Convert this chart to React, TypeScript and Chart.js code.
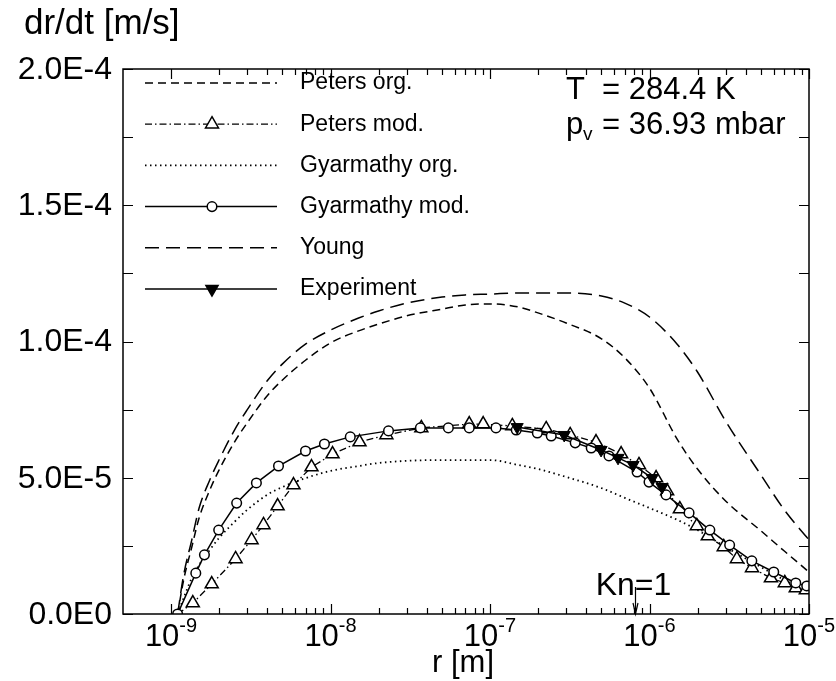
import React, { useEffect, useRef } from "react";
import { Chart, registerables } from "chart.js";

Chart.register(...registerables);

const FONT_FAMILY = "'Liberation Sans', Arial, Helvetica, sans-serif";

// ---------- data ----------
const curveX = [1.1e-9, 1.2e-9, 1.35e-9, 1.5e-9, 1.75e-9, 2e-9, 2.5e-9, 3e-9, 4e-9, 5e-9, 7e-9, 1e-8, 1.5e-8, 2e-8, 3e-8, 5e-8, 7e-8, 1e-7, 1.5e-7, 2e-7, 3e-7, 5e-7, 7e-7, 1e-6, 1.5e-6, 2e-6, 3e-6, 5e-6, 7e-6, 1e-5];
const petersOrgY = [0, 1.25e-5, 2.46e-5, 3.52e-5, 4.55e-5, 5.28e-5, 6.31e-5, 7.01e-5, 8.0e-5, 8.59e-5, 9.32e-5, 9.95e-5, 1.039e-4, 1.064e-4, 1.094e-4, 1.119e-4, 1.134e-4, 1.138e-4, 1.127e-4, 1.105e-4, 1.068e-4, 1.01e-4, 9.4e-5, 8.29e-5, 6.39e-5, 5.32e-5, 4.15e-5, 3.05e-5, 2.31e-5, 1.54e-5];
const youngY = [0, 1.43e-5, 2.72e-5, 3.89e-5, 4.92e-5, 5.65e-5, 6.75e-5, 7.49e-5, 8.55e-5, 9.18e-5, 9.91e-5, 1.042e-4, 1.086e-4, 1.112e-4, 1.141e-4, 1.163e-4, 1.171e-4, 1.174e-4, 1.178e-4, 1.178e-4, 1.178e-4, 1.167e-4, 1.141e-4, 1.09e-4, 9.88e-5, 8.88e-5, 7.08e-5, 5.1e-5, 3.82e-5, 2.72e-5];
const gyarmathyOrgY = [0, 5.9e-6, 1.32e-5, 1.8e-5, 2.35e-5, 2.79e-5, 3.38e-5, 3.82e-5, 4.37e-5, 4.66e-5, 4.99e-5, 5.25e-5, 5.43e-5, 5.54e-5, 5.62e-5, 5.65e-5, 5.65e-5, 5.65e-5, 5.47e-5, 5.32e-5, 5.03e-5, 4.62e-5, 4.26e-5, 3.89e-5, 3.45e-5, 3.08e-5, 2.46e-5, 1.72e-5, 1.25e-5, 7.7e-6];

const petersModX = [1.1e-9, 1.37e-9, 1.8e-9, 2.54e-9, 3.2e-9, 3.8e-9, 4.66e-9, 5.86e-9, 7.6e-9, 1.03e-8, 1.52e-8, 2.24e-8, 3.71e-8, 7.41e-8, 9.06e-8, 1.38e-7, 2.25e-7, 3.18e-7, 4.62e-7, 6.64e-7, 8.59e-7, 1.1e-6, 1.29e-6, 1.55e-6, 1.98e-6, 2.32e-6, 2.92e-6, 3.53e-6, 4.39e-6, 5.77e-6, 7.05e-6, 8.26e-6, 9.55e-6];
const petersModY = [0, 4.0e-6, 1.1e-5, 2.02e-5, 2.72e-5, 3.27e-5, 3.96e-5, 4.73e-5, 5.39e-5, 5.87e-5, 6.31e-5, 6.57e-5, 6.83e-5, 6.97e-5, 6.97e-5, 6.9e-5, 6.79e-5, 6.57e-5, 6.31e-5, 5.87e-5, 5.47e-5, 4.99e-5, 4.51e-5, 3.85e-5, 3.23e-5, 2.86e-5, 2.46e-5, 2.02e-5, 1.69e-5, 1.32e-5, 1.14e-5, 9.5e-6, 8.8e-6];

const gyarmathyModX = [1.1e-9, 1.43e-9, 1.62e-9, 1.99e-9, 2.58e-9, 3.43e-9, 4.72e-9, 6.97e-9, 9.16e-9, 1.33e-8, 2.31e-8, 3.66e-8, 5.48e-8, 7.41e-8, 1.09e-7, 1.46e-7, 1.98e-7, 2.42e-7, 3.42e-7, 4.31e-7, 5.57e-7, 8.36e-7, 9.93e-7, 1.27e-6, 1.77e-6, 2.39e-6, 3.18e-6, 4.38e-6, 6.01e-6, 8.26e-6, 9.68e-6];
const gyarmathyModY = [0, 1.5e-5, 2.17e-5, 3.08e-5, 4.07e-5, 4.81e-5, 5.43e-5, 5.98e-5, 6.24e-5, 6.5e-5, 6.72e-5, 6.83e-5, 6.83e-5, 6.83e-5, 6.83e-5, 6.75e-5, 6.64e-5, 6.53e-5, 6.28e-5, 6.09e-5, 5.8e-5, 5.21e-5, 4.84e-5, 4.37e-5, 3.71e-5, 3.08e-5, 2.53e-5, 1.95e-5, 1.54e-5, 1.14e-5, 1.03e-5];

const experimentX = [1.48e-7, 2.92e-7, 4.97e-7, 6.35e-7, 7.89e-7, 1.04e-6, 1.2e-6];
const experimentY = [6.86e-5, 6.57e-5, 6.02e-5, 5.73e-5, 5.47e-5, 4.99e-5, 4.66e-5];

const seriesLabels = ["Peters org.", "Peters mod.", "Gyarmathy org.", "Gyarmathy mod.", "Young", "Experiment"];

const yTickValues = [0, 5e-5, 1e-4, 1.5e-4, 2e-4];
const yTickLabels = ["0.0E0", "5.0E-5", "1.0E-4", "1.5E-4", "2.0E-4"];
const xDecades = [-9, -8, -7, -6, -5];
const xMin = 5e-10;
const xMax = 1e-5;
const yMax = 2e-4;

const knudsenX = 8.1e-7;
const knudsenLabel = "Kn=1";
const yTitle = "dr/dt [m/s]";
const xTitle = "r [m]";
const tempText = "= 284.4 K";
const pressureText = "= 36.93 mbar";

// ---------- helpers ----------
function pts(xs: number[], ys: number[]) {
  return xs.map((x, i) => ({ x, y: ys[i] }));
}

function drawText(
  ctx: CanvasRenderingContext2D,
  s: string,
  x: number,
  y: number,
  size: number,
  align: CanvasTextAlign = "left",
  baseline: CanvasTextBaseline = "alphabetic"
) {
  ctx.save();
  ctx.font = `${size}px ${FONT_FAMILY}`;
  ctx.fillStyle = "#000";
  ctx.textAlign = align;
  ctx.textBaseline = baseline;
  ctx.fillText(s, x, y);
  ctx.restore();
}

function textWidth(ctx: CanvasRenderingContext2D, s: string, size: number) {
  ctx.save();
  ctx.font = `${size}px ${FONT_FAMILY}`;
  const w = ctx.measureText(s).width;
  ctx.restore();
  return w;
}

function drawMarker(ctx: CanvasRenderingContext2D, style: string, r: number, rot: number, x: number, y: number) {
  ctx.beginPath();
  if (style === "circle") {
    ctx.arc(x, y, r, 0, Math.PI * 2);
  } else {
    let rad = (rot * Math.PI) / 180;
    ctx.moveTo(x + Math.sin(rad) * r, y - Math.cos(rad) * r);
    rad += (2 * Math.PI) / 3;
    ctx.lineTo(x + Math.sin(rad) * r, y - Math.cos(rad) * r);
    rad += (2 * Math.PI) / 3;
    ctx.lineTo(x + Math.sin(rad) * r, y - Math.cos(rad) * r);
    ctx.closePath();
  }
  ctx.fill();
  ctx.stroke();
}

const LABEL_SIZE = 31;

const decorPlugin = {
  id: "decor",
  afterDatasetsDraw(chart: any) {
    const ctx: CanvasRenderingContext2D = chart.ctx;
    const { left, right, top, bottom } = chart.chartArea;
    const xs = chart.scales.x;
    const ys = chart.scales.y;

    ctx.save();
    ctx.strokeStyle = "#000";
    ctx.lineWidth = 1.5;
    ctx.setLineDash([]);
    ctx.strokeRect(left, top, right - left, bottom - top);

    // y ticks (inside, both sides)
    ctx.lineWidth = 1.2;
    for (let v = 0; v <= yMax + 1e-12; v += yMax / 8) {
      const y = Math.round(ys.getPixelForValue(v)) + 0.5;
      ctx.beginPath();
      ctx.moveTo(left, y);
      ctx.lineTo(left + 10, y);
      ctx.moveTo(right, y);
      ctx.lineTo(right - 10, y);
      ctx.stroke();
    }
    // x ticks (inside, top & bottom)
    for (let d = -9; d <= -5; d++) {
      for (let m = 1; m <= 9; m++) {
        const val = m * Math.pow(10, d);
        if (val > xMax * 1.0001) continue;
        const x = Math.round(xs.getPixelForValue(val)) + 0.5;
        const len = m === 1 ? 10 : 6;
        ctx.beginPath();
        ctx.moveTo(x, bottom);
        ctx.lineTo(x, bottom - len);
        ctx.moveTo(x, top);
        ctx.lineTo(x, top + len);
        ctx.stroke();
      }
    }
    ctx.restore();

    // y tick labels
    yTickValues.forEach((v, i) => {
      drawText(ctx, yTickLabels[i], left - 11, ys.getPixelForValue(v) + 1, 32, "right", "middle");
    });

    // x tick labels: 10^d
    xDecades.forEach((d) => {
      const x = xs.getPixelForValue(Math.pow(10, d));
      const base = "10";
      const sup = String(d);
      const w1 = textWidth(ctx, base, LABEL_SIZE);
      const w2 = textWidth(ctx, sup, 20);
      const x0 = x - (w1 + w2) / 2;
      drawText(ctx, base, x0, bottom + 32, LABEL_SIZE);
      drawText(ctx, sup, x0 + w1, bottom + 18, 20);
    });

    // axis titles
    drawText(ctx, xTitle, (left + right) / 2 - 3, bottom + 58, LABEL_SIZE, "center");
    drawText(ctx, yTitle, 24, 34, 35, "left");

    // legend
    const ds = chart.data.datasets;
    const lx0 = left + 22;
    const lx1 = left + 154;
    const mx = left + 89;
    const tx = left + 177;
    ds.forEach((d: any, i: number) => {
      const y = top + 14 + i * 41.2;
      ctx.save();
      ctx.strokeStyle = "#000";
      ctx.lineWidth = d.borderWidth;
      ctx.setLineDash(d.borderDash || []);
      ctx.beginPath();
      ctx.moveTo(lx0, y);
      ctx.lineTo(lx1, y);
      ctx.stroke();
      ctx.restore();
      if (d.legendMarker) {
        ctx.save();
        ctx.setLineDash([]);
        ctx.lineWidth = 1.5;
        ctx.strokeStyle = "#000";
        ctx.fillStyle = d.pointBackgroundColor;
        drawMarker(ctx, d.legendMarker, d.legendRadius, d.pointRotation || 0, mx, y);
        ctx.restore();
      }
      drawText(ctx, seriesLabels[i], tx, y, 23, "left", "middle");
    });

    // T / p_v annotation
    const ax = left + 443;
    const eqx = ax + 36;
    drawText(ctx, "T", ax, top + 30, LABEL_SIZE);
    drawText(ctx, tempText, eqx, top + 30, LABEL_SIZE);
    drawText(ctx, "p", ax, top + 65, LABEL_SIZE);
    drawText(ctx, "v", ax + 17, top + 71, 19);
    drawText(ctx, pressureText, eqx, top + 65, LABEL_SIZE);

    // Kn = 1 arrow
    const kx = Math.round(xs.getPixelForValue(knudsenX)) + 0.5;
    drawText(ctx, knudsenLabel, kx - 2, bottom - 19, 32, "center");
    ctx.save();
    ctx.strokeStyle = "#000";
    ctx.lineWidth = 1.2;
    ctx.beginPath();
    ctx.moveTo(kx, bottom - 27);
    ctx.lineTo(kx, bottom);
    ctx.moveTo(kx - 2.5, bottom - 11);
    ctx.lineTo(kx, bottom);
    ctx.lineTo(kx + 2.5, bottom - 11);
    ctx.stroke();
    ctx.restore();
  },
};

export default function App() {
  const canvasRef = useRef<HTMLCanvasElement | null>(null);

  useEffect(() => {
    if (!canvasRef.current) return;
    const petersModRadius = petersModX.map((_, i) => (i === 0 ? 0 : 7.5));

    const chart = new Chart(canvasRef.current, {
      type: "line",
      data: {
        datasets: [
          {
            label: seriesLabels[0],
            data: pts(curveX, petersOrgY),
            borderColor: "#000",
            borderWidth: 1.5,
            borderDash: [8, 5],
            pointRadius: 0,
            cubicInterpolationMode: "monotone",
            order: 5,
          },
          {
            label: seriesLabels[1],
            data: pts(petersModX, petersModY),
            borderColor: "#000",
            borderWidth: 1.3,
            borderDash: [7, 3, 1.5, 3],
            pointStyle: "triangle",
            pointRadius: petersModRadius,
            pointBorderWidth: 1.5,
            pointBorderColor: "#000",
            pointBackgroundColor: "#fff",
            legendMarker: "triangle",
            legendRadius: 7.5,
            order: 2,
          },
          {
            label: seriesLabels[2],
            data: pts(curveX, gyarmathyOrgY),
            borderColor: "#000",
            borderWidth: 1.8,
            borderDash: [1.5, 3.5],
            pointRadius: 0,
            cubicInterpolationMode: "monotone",
            order: 4,
          },
          {
            label: seriesLabels[3],
            data: pts(gyarmathyModX, gyarmathyModY),
            borderColor: "#000",
            borderWidth: 1.5,
            pointStyle: "circle",
            pointRadius: 4.8,
            pointBorderWidth: 1.5,
            pointBorderColor: "#000",
            pointBackgroundColor: "#fff",
            legendMarker: "circle",
            legendRadius: 4.8,
            order: 1,
          },
          {
            label: seriesLabels[4],
            data: pts(curveX, youngY),
            borderColor: "#000",
            borderWidth: 1.5,
            borderDash: [14, 7],
            pointRadius: 0,
            cubicInterpolationMode: "monotone",
            order: 3,
          },
          {
            label: seriesLabels[5],
            data: pts(experimentX, experimentY),
            borderColor: "#000",
            borderWidth: 1.5,
            pointStyle: "triangle",
            pointRotation: 180,
            pointRadius: 7,
            pointBorderWidth: 1,
            pointBorderColor: "#000",
            pointBackgroundColor: "#000",
            legendMarker: "triangle",
            legendRadius: 7,
            order: 0,
          },
        ] as any,
      },
      options: {
        responsive: false,
        animation: false,
        events: [],
        layout: { padding: { top: 69, right: 27, left: 0, bottom: 0 } },
        plugins: { legend: { display: false }, tooltip: { enabled: false } },
        scales: {
          x: {
            type: "logarithmic",
            min: xMin,
            max: xMax,
            grid: { display: false },
            border: { display: false },
            ticks: { display: false },
            afterFit: (s: any) => {
              s.height = 67;
            },
          },
          y: {
            type: "linear",
            min: 0,
            max: yMax,
            grid: { display: false },
            border: { display: false },
            ticks: { display: false },
            afterFit: (s: any) => {
              s.width = 123;
            },
          },
        },
      },
      plugins: [decorPlugin],
    } as any);

    return () => chart.destroy();
  }, []);

  return (
    <div style={{ position: "absolute", left: 0, top: 0, width: 836, height: 681, background: "#fff" }}>
      <canvas ref={canvasRef} width={836} height={681} style={{ display: "block" }} />
    </div>
  );
}
